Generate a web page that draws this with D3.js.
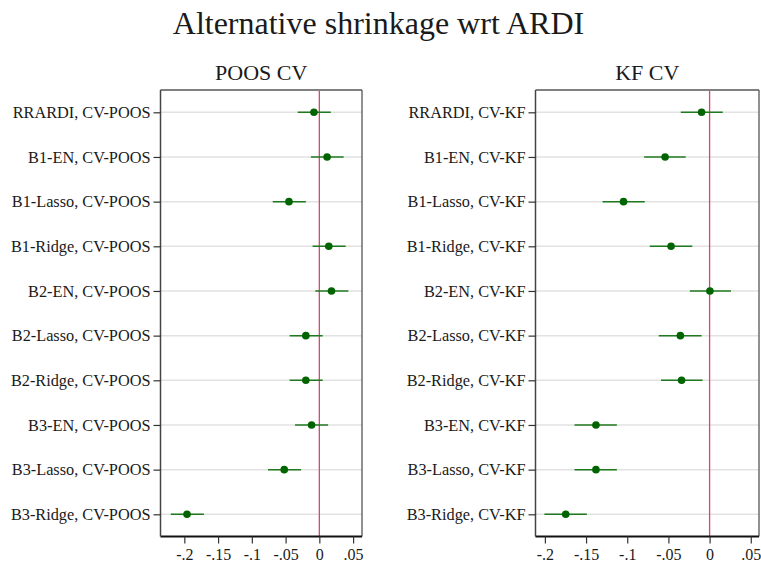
<!DOCTYPE html>
<html>
<head>
<meta charset="utf-8">
<script src="https://cdn.jsdelivr.net/npm/d3@7"></script>
<style>
  html, body { margin: 0; padding: 0; background: #fff; }
  text { font-family: "Liberation Serif", "DejaVu Serif", serif; fill: #1a1a1a; }
</style>
</head>
<body>
<svg id="chart" width="761" height="565"></svg>
<script>
const methods = ["RRARDI", "B1-EN", "B1-Lasso", "B1-Ridge", "B2-EN", "B2-Lasso", "B2-Ridge", "B3-EN", "B3-Lasso", "B3-Ridge"];

const poosLabels = methods.map(m => m + ", CV-POOS");
const poosEst = [-0.008, 0.0115, -0.045, 0.014, 0.018, -0.020, -0.020, -0.0115, -0.052, -0.196];
const poosLo  = [-0.032, -0.0125, -0.069, -0.010, -0.006, -0.044, -0.044, -0.036, -0.076, -0.220];
const poosHi  = [0.017, 0.036, -0.020, 0.039, 0.043, 0.005, 0.005, 0.013, -0.027, -0.171];

const kfLabels = methods.map(m => m + ", CV-KF");
const kfEst = [-0.0097, -0.054, -0.1045, -0.0468, 0.0004, -0.0355, -0.034, -0.138, -0.138, -0.1747];
const kfLo  = [-0.035, -0.0795, -0.130, -0.0726, -0.024, -0.0617, -0.059, -0.164, -0.164, -0.2006];
const kfHi  = [0.016, -0.029, -0.0787, -0.021, 0.026, -0.0097, -0.0085, -0.1126, -0.1126, -0.149];

const xTicks = [-0.2, -0.15, -0.1, -0.05, 0, 0.05];
const xTickLabels = ["-.2", "-.15", "-.1", "-.05", "0", ".05"];

const mainTitle = "Alternative shrinkage wrt ARDI";
const panelTitles = ["POOS CV", "KF CV"];

const svg = d3.select("#chart");

svg.append("text")
  .attr("x", 378.5).attr("y", 34)
  .attr("text-anchor", "middle")
  .style("font-size", "32px")
  .text(mainTitle);

const panels = [
  { title: panelTitles[0], labels: poosLabels, est: poosEst, lo: poosLo, hi: poosHi,
    left: 160.5, right: 362, domain: [-0.2353, 0.0632] },
  { title: panelTitles[1], labels: kfLabels, est: kfEst, lo: kfLo, hi: kfHi,
    left: 535.5, right: 759, domain: [-0.2114, 0.0600] }
];

const plotTop = 90, plotBottom = 536.5;

panels.forEach(p => {
  const g = svg.append("g");
  const x = d3.scaleLinear().domain(p.domain).range([p.left, p.right]);
  const y = d3.scalePoint().domain(p.labels).range([112.3, 514.3]);

  g.selectAll(".grid").data(p.labels).join("line")
    .attr("x1", p.left).attr("x2", p.right)
    .attr("y1", d => y(d)).attr("y2", d => y(d))
    .attr("stroke", "#e2e2e2").attr("stroke-width", 1.5);

  g.append("line")
    .attr("x1", x(0)).attr("x2", x(0))
    .attr("y1", plotTop).attr("y2", plotBottom)
    .attr("stroke", "#d9476e").attr("stroke-width", 1.3);

  g.selectAll(".ci").data(p.labels).join("line")
    .attr("x1", (d, i) => x(p.lo[i])).attr("x2", (d, i) => x(p.hi[i]))
    .attr("y1", d => y(d)).attr("y2", d => y(d))
    .attr("stroke", "#1f7a1f").attr("stroke-width", 1.5);

  g.selectAll(".pt").data(p.labels).join("circle")
    .attr("cx", (d, i) => x(p.est[i])).attr("cy", d => y(d))
    .attr("r", 3.8).attr("fill", "#006400");

  g.append("line").attr("x1", p.left).attr("x2", p.right).attr("y1", plotTop).attr("y2", plotTop)
    .attr("stroke", "#808080").attr("stroke-width", 2);
  g.append("line").attr("x1", p.right).attr("x2", p.right).attr("y1", plotTop).attr("y2", plotBottom)
    .attr("stroke", "#555").attr("stroke-width", 1.3);

  const xAxis = d3.axisBottom(x).tickValues(xTicks)
    .tickFormat((d, i) => xTickLabels[i]).tickSize(7).tickSizeOuter(0).tickPadding(5);
  const gx = g.append("g").attr("transform", `translate(0,${plotBottom})`).call(xAxis);
  gx.select(".domain").attr("stroke", "#111").attr("stroke-width", 2)
    .attr("d", `M${p.left},0H${p.right}`);
  gx.selectAll(".tick line").attr("stroke", "#333").attr("stroke-width", 1.2);
  gx.selectAll(".tick text").style("font-size", "16px").attr("fill", "#1a1a1a")
    .style("font-family", "'Liberation Serif', serif");

  const yAxis = d3.axisLeft(y).tickSize(7).tickSizeOuter(0).tickPadding(3);
  const gy = g.append("g").attr("transform", `translate(${p.left},0)`).call(yAxis);
  gy.select(".domain").attr("stroke", "#444").attr("stroke-width", 1.5)
    .attr("d", `M0,${plotTop}V${plotBottom}`);
  gy.selectAll(".tick line").attr("stroke", "#333").attr("stroke-width", 1.2);
  gy.selectAll(".tick text").style("font-size", "16.3px").attr("fill", "#1a1a1a")
    .style("font-family", "'Liberation Serif', serif");

  svg.append("text")
    .attr("x", (p.left + p.right) / 2).attr("y", 80)
    .attr("text-anchor", "middle")
    .style("font-size", "22px")
    .text(p.title);
});
</script>
</body>
</html>
